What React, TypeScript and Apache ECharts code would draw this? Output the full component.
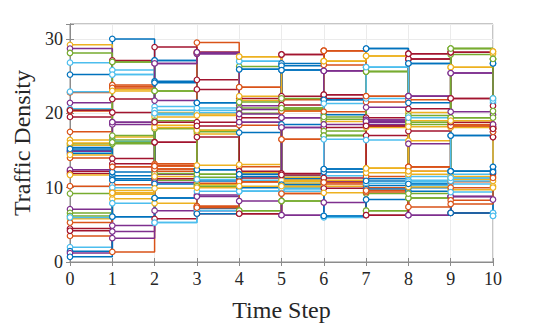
import React, { useEffect, useRef } from "react";
import * as echarts from "echarts";

const timeSteps = [0, 1, 2, 3, 4, 5, 6, 7, 8, 9, 10];
const xTickLabels = ["0", "1", "2", "3", "4", "5", "6", "7", "8", "9", "10"];
const yTickValues = [0, 10, 20, 30];
const colorOrder = ["#0072BD", "#D95319", "#EDB120", "#7E2F8E", "#77AC30", "#4DBEEE", "#A2142F"];

const s01 = [25.2, 30.0, 27.1, 21.4, 25.9, 26.7, 21.8, 28.7, 26.7, 17.0, 26.7];
const s02 = [22.8, 23.6, 12.9, 29.5, 23.5, 16.5, 28.4, 22.3, 12.8, 18.5, 18.5];
const s03 = [29.2, 23.2, 20.1, 19.9, 27.6, 20.3, 27.0, 27.7, 16.3, 26.2, 28.3];
const s04 = [28.7, 18.8, 26.7, 28.0, 18.8, 18.1, 25.7, 18.5, 22.3, 25.4, 19.8];
const s05 = [28.1, 26.9, 23.0, 17.7, 26.3, 20.7, 17.0, 25.6, 8.6, 19.4, 22.0];
const s06 = [26.8, 25.2, 19.8, 20.4, 27.0, 10.6, 11.6, 26.2, 11.5, 11.3, 21.4];
const s07 = [19.5, 27.1, 28.9, 24.5, 19.4, 27.9, 22.5, 19.4, 28.0, 22.0, 16.8];
const s08 = [15.4, 11.6, 24.3, 12.4, 11.8, 25.8, 12.5, 10.3, 10.9, 12.2, 12.8];
const s09 = [20.3, 23.8, 13.2, 28.2, 12.8, 21.8, 26.5, 21.5, 21.8, 18.3, 17.9];
const s10 = [16.4, 16.8, 18.4, 17.2, 13.1, 10.8, 18.9, 12.6, 19.0, 18.1, 11.5];
const s11 = [21.4, 4.9, 11.8, 6.9, 8.2, 6.3, 8.0, 18.8, 15.9, 8.8, 17.5];
const s12 = [20.5, 16.4, 17.9, 11.8, 6.9, 8.2, 19.2, 6.9, 18.5, 27.9, 19.4];
const s13 = [22.9, 16.2, 20.9, 20.1, 9.5, 10.2, 6.2, 22.0, 10.3, 10.5, 6.2];
const s14 = [12.2, 21.9, 16.1, 23.2, 22.0, 22.3, 18.1, 18.3, 27.3, 28.2, 18.2];
const s15 = [15.0, 11.2, 8.6, 7.2, 17.4, 18.5, 19.8, 11.2, 21.4, 6.6, 6.6];
const s16 = [17.5, 23.4, 12.5, 7.5, 18.4, 11.2, 10.5, 10.0, 12.2, 10.8, 18.0];
const s17 = [15.7, 9.6, 19.5, 19.7, 21.7, 10.0, 11.0, 18.1, 20.1, 11.1, 28.0];
const s18 = [12.4, 18.5, 21.7, 28.0, 21.0, 19.4, 10.8, 19.1, 6.3, 8.8, 8.4];
const s19 = [15.9, 17.0, 11.0, 11.4, 20.7, 20.5, 17.6, 9.2, 19.7, 28.7, 27.3];
const s20 = [20.6, 25.8, 20.4, 20.7, 11.0, 11.6, 6.0, 10.6, 10.6, 11.8, 6.6];
const s21 = [11.9, 13.9, 11.2, 18.8, 11.3, 11.9, 22.0, 17.0, 20.6, 22.0, 21.0];
const s22 = [14.6, 12.1, 27.1, 10.9, 10.0, 26.4, 12.1, 9.8, 9.5, 17.0, 12.3];
const s23 = [14.0, 10.4, 12.2, 10.6, 10.8, 9.2, 20.2, 9.4, 12.8, 18.3, 17.9];
const s24 = [5.8, 8.5, 7.9, 10.4, 12.0, 11.4, 10.2, 12.6, 11.8, 9.7, 10.9];
const s25 = [7.1, 4.1, 6.9, 9.0, 20.5, 18.1, 25.7, 19.1, 22.3, 8.8, 17.9];
const s26 = [9.2, 15.9, 23.0, 17.5, 20.0, 22.0, 17.0, 6.9, 8.6, 19.4, 27.3];
const s27 = [2.0, 25.2, 20.0, 9.5, 9.5, 9.8, 6.2, 26.2, 11.0, 10.9, 21.7];
const s28 = [4.5, 13.2, 16.1, 16.8, 6.5, 21.1, 22.5, 6.3, 27.3, 6.6, 16.8];
const s29 = [1.45, 6.1, 24.1, 21.4, 25.9, 11.2, 21.8, 28.7, 10.0, 12.2, 26.7];
const s30 = [3.5, 1.36, 13.0, 7.5, 10.8, 20.3, 28.4, 11.5, 12.8, 8.3, 17.5];
const s31 = [16.0, 23.0, 18.1, 17.7, 22.3, 10.5, 27.0, 12.0, 10.1, 11.5, 10.2];
const s32 = [1.2, 3.2, 10.7, 8.8, 19.9, 19.4, 18.5, 18.9, 6.3, 20.2, 18.2];
const s33 = [6.6, 26.9, 11.9, 11.8, 6.9, 8.2, 17.0, 25.6, 18.8, 28.7, 27.3];
const s34 = [14.8, 10.0, 5.3, 11.1, 27.0, 9.5, 16.5, 16.4, 10.8, 11.3, 6.2];
const s35 = [4.2, 12.8, 5.8, 6.5, 6.5, 27.9, 11.3, 6.3, 28.0, 28.2, 11.9];
const s36 = [0.7, 11.0, 10.5, 12.4, 11.5, 25.8, 12.5, 10.9, 26.7, 12.2, 12.8];
const s37 = [5.3, 9.3, 12.5, 28.2, 23.5, 16.5, 28.4, 22.3, 12.8, 10.0, 18.0];
const s38 = [11.7, 9.1, 11.5, 13.0, 27.6, 11.0, 27.0, 27.7, 12.2, 26.2, 28.3];
const s39 = [14.9, 18.8, 26.7, 28.2, 18.8, 6.3, 25.7, 20.8, 22.3, 25.4, 18.5];
const s40 = [6.2, 16.1, 19.0, 10.2, 21.5, 20.7, 19.5, 25.6, 9.2, 28.7, 20.3];
const s41 = [6.0, 7.9, 5.3, 6.9, 9.5, 9.9, 21.3, 26.2, 19.4, 9.4, 22.0];
const s42 = [20.4, 20.1, 18.8, 18.3, 12.2, 11.7, 9.9, 18.3, 17.6, 18.8, 17.9];
const s43 = [15.2, 6.1, 8.6, 6.5, 11.8, 10.4, 6.2, 8.4, 10.5, 6.6, 12.1];
const s44 = [10.2, 12.8, 12.9, 7.3, 10.8, 9.2, 10.7, 9.6, 7.4, 7.8, 11.3];
const s45 = [14.4, 9.3, 9.9, 10.0, 10.2, 10.2, 9.3, 12.6, 18.2, 19.0, 10.0];

const allSeries = [
  s01, s02, s03, s04, s05, s06, s07, s08, s09, s10, s11, s12, s13, s14, s15,
  s16, s17, s18, s19, s20, s21, s22, s23, s24, s25, s26, s27, s28, s29, s30,
  s31, s32, s33, s34, s35, s36, s37, s38, s39, s40, s41, s42, s43, s44, s45,
];

const FONT = "'Liberation Serif', 'DejaVu Serif', serif";
const AXIS_GRAY = "#8c8c8c";

export default function App() {
  const ref = useRef<HTMLDivElement>(null);
  useEffect(() => {
    if (!ref.current) return;
    const chart = echarts.init(ref.current, null, { renderer: "svg" });
    const series = allSeries.map((vals, i) => ({
      type: "line",
      step: "end",
      data: vals.map((v, j) => [timeSteps[j], v]),
      symbol: "circle",
      symbolSize: 5.5,
      showSymbol: true,
      lineStyle: { width: 1.5, color: colorOrder[i % 7] },
      itemStyle: { color: "#ffffff", borderColor: colorOrder[i % 7], borderWidth: 1.2 },
      emphasis: { disabled: true },
      z: 2,
    }));
    chart.setOption({
      animation: false,
      backgroundColor: "#ffffff",
      grid: {
        left: 70,
        right: 52,
        top: 24,
        bottom: 60,
        show: true,
        borderColor: AXIS_GRAY,
        borderWidth: 1,
        backgroundColor: "transparent",
      },
      xAxis: [
        {
          type: "value",
          min: 0,
          max: 10,
          interval: 1,
          name: "Time Step",
          nameLocation: "middle",
          nameGap: 36,
          nameTextStyle: { fontFamily: FONT, fontSize: 24, color: "#262626" },
          axisLine: { show: true, lineStyle: { color: AXIS_GRAY, width: 1 } },
          axisTick: { show: true, inside: true, length: 4, lineStyle: { color: AXIS_GRAY } },
          axisLabel: {
            fontFamily: FONT,
            fontSize: 18,
            color: "#262626",
            margin: 8,
            formatter: (v: number) => xTickLabels[Math.round(v)] ?? "",
          },
          splitLine: { show: true, lineStyle: { color: "#ebebeb", width: 1 } },
        },
        {
          type: "value",
          position: "top",
          min: 0,
          max: 10,
          interval: 1,
          axisLine: { show: true, lineStyle: { color: AXIS_GRAY, width: 1 } },
          axisTick: { show: true, inside: true, length: 4, lineStyle: { color: AXIS_GRAY } },
          axisLabel: { show: false },
          splitLine: { show: false },
        },
      ],
      yAxis: [
        {
          type: "value",
          min: 0,
          max: 32,
          interval: 10,
          name: "Traffic Density",
          nameLocation: "middle",
          nameGap: 30,
          nameTextStyle: { fontFamily: FONT, fontSize: 24, color: "#262626" },
          axisLine: { show: true, lineStyle: { color: AXIS_GRAY, width: 1 } },
          axisTick: { show: true, inside: true, length: 4, lineStyle: { color: AXIS_GRAY } },
          axisLabel: {
            fontFamily: FONT,
            fontSize: 18,
            color: "#262626",
            margin: 7,
            formatter: (v: number) => (yTickValues.indexOf(v) >= 0 ? String(v) : ""),
          },
          splitLine: { show: true, lineStyle: { color: "#ebebeb", width: 1 } },
        },
        {
          type: "value",
          position: "right",
          min: 0,
          max: 32,
          interval: 10,
          axisLine: { show: true, lineStyle: { color: AXIS_GRAY, width: 1 } },
          axisTick: { show: true, inside: true, length: 4, lineStyle: { color: AXIS_GRAY } },
          axisLabel: { show: false },
          splitLine: { show: false },
        },
      ],
      series,
    });
    return () => chart.dispose();
  }, []);
  return (
    <div
      ref={ref}
      style={{ position: "fixed", left: 0, top: 0, width: 545, height: 327 }}
    />
  );
}
